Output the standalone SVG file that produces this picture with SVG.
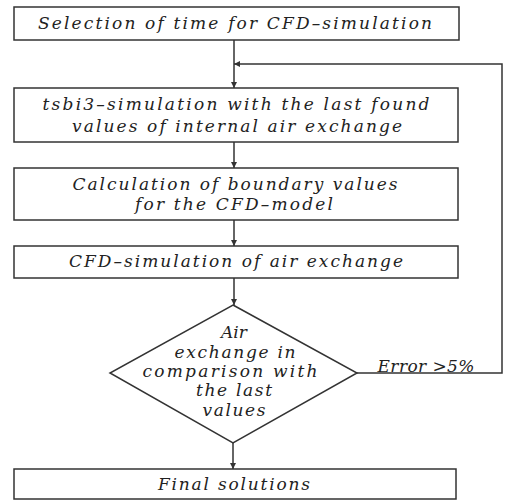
<svg xmlns="http://www.w3.org/2000/svg" width="511" height="501" viewBox="0 0 511 501">
<style>
.box{fill:#fff;stroke:#333;stroke-width:1.5}
.t{font-family:"DejaVu Serif",serif;font-style:italic;font-size:17px;fill:#222;text-anchor:middle}
.c{fill:none;stroke:#333;stroke-width:1.5}
</style>
<defs>
<marker id="ah" viewBox="0 0 10 10" refX="10" refY="5" markerWidth="6" markerHeight="6" markerUnits="userSpaceOnUse" orient="auto"><path d="M0,0 L10,5 L0,10 z" fill="#333"/></marker>
</defs>
<rect width="511" height="501" fill="#fff"/>
<g id="connectors">
<line class="c" x1="234" y1="40" x2="234" y2="88" marker-end="url(#ah)"/>
<polyline class="c" points="357,373 502,373 502,64 234,64" marker-end="url(#ah)"/>
<line class="c" x1="234" y1="142" x2="234" y2="168" marker-end="url(#ah)"/>
<line class="c" x1="234" y1="220" x2="234" y2="246" marker-end="url(#ah)"/>
<line class="c" x1="234" y1="278" x2="234" y2="305" marker-end="url(#ah)"/>
<line class="c" x1="233" y1="443" x2="233" y2="469" marker-end="url(#ah)"/>
<text class="t" x="426" y="372" textLength="97" lengthAdjust="spacing">Error &gt;5%</text>
</g>
<g id="n1">
<rect class="box" x="14" y="7" width="445" height="33"/>
<text class="t" x="235" y="29" textLength="394" lengthAdjust="spacing">Selection of time for CFD–simulation</text>
</g>
<g id="n2">
<rect class="box" x="14" y="88" width="444" height="54"/>
<text class="t" x="236" y="110" textLength="387" lengthAdjust="spacing">tsbi3–simulation with the last found</text>
<text class="t" x="237" y="132" textLength="330" lengthAdjust="spacing">values of internal air exchange</text>
</g>
<g id="n3">
<rect class="box" x="14" y="168" width="444" height="52"/>
<text class="t" x="235" y="190" textLength="325" lengthAdjust="spacing">Calculation of boundary values</text>
<text class="t" x="234" y="210" textLength="198" lengthAdjust="spacing">for the CFD–model</text>
</g>
<g id="n4">
<rect class="box" x="14" y="246" width="444" height="32"/>
<text class="t" x="236" y="267" textLength="334" lengthAdjust="spacing">CFD–simulation of air exchange</text>
</g>
<g id="n5">
<polygon class="box" points="233,305 357,373 233,443 110,373"/>
<text class="t" x="234" y="338">Air</text>
<text class="t" x="235" y="358" textLength="121" lengthAdjust="spacing">exchange in</text>
<text class="t" x="230" y="377" textLength="175" lengthAdjust="spacing">comparison with</text>
<text class="t" x="234" y="396" textLength="76" lengthAdjust="spacing">the last</text>
<text class="t" x="234" y="416" textLength="63" lengthAdjust="spacing">values</text>
</g>
<g id="n6">
<rect class="box" x="14" y="469" width="442" height="30"/>
<text class="t" x="234" y="490" textLength="152" lengthAdjust="spacing">Final solutions</text>
</g>
</svg>
